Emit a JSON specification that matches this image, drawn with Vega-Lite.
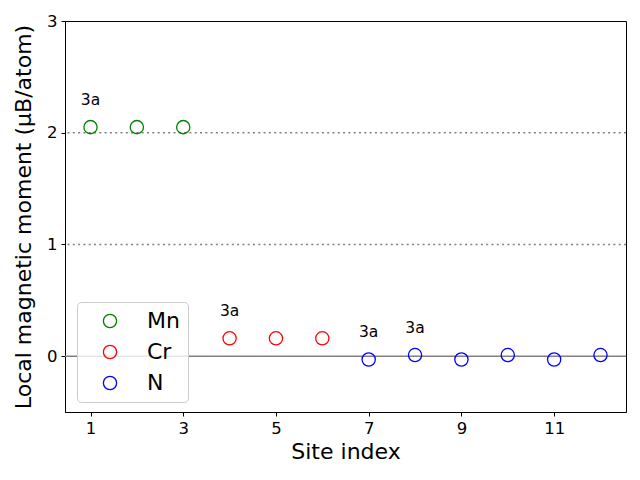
{
  "$schema": "https://vega.github.io/schema/vega-lite/v6.json",
  "width": 561,
  "height": 391,
  "autosize": {"type": "none"},
  "padding": {"left": 65, "top": 21, "right": 14, "bottom": 68},
  "background": "white",
  "config": {
    "font": "DejaVu Sans",
    "view": {"stroke": "black", "strokeWidth": 1},
    "axis": {
      "domainColor": "black",
      "tickColor": "black",
      "labelColor": "black",
      "titleColor": "black",
      "grid": false,
      "labelFontSize": 16.5,
      "titleFontSize": 22,
      "titleFontWeight": "normal",
      "tickSize": 4,
      "labelPadding": 4
    }
  },
  "datasets": {
    "sites": [
      {"site": 1, "moment": 2.05, "element": "Mn"},
      {"site": 2, "moment": 2.05, "element": "Mn"},
      {"site": 3, "moment": 2.05, "element": "Mn"},
      {"site": 4, "moment": 0.16, "element": "Cr"},
      {"site": 5, "moment": 0.16, "element": "Cr"},
      {"site": 6, "moment": 0.16, "element": "Cr"},
      {"site": 7, "moment": -0.03, "element": "N"},
      {"site": 8, "moment": 0.01, "element": "N"},
      {"site": 9, "moment": -0.03, "element": "N"},
      {"site": 10, "moment": 0.01, "element": "N"},
      {"site": 11, "moment": -0.03, "element": "N"},
      {"site": 12, "moment": 0.01, "element": "N"}
    ],
    "labels": [
      {"site": 1, "moment": 2.25, "label": "3a"},
      {"site": 4, "moment": 0.36, "label": "3a"},
      {"site": 7, "moment": 0.17, "label": "3a"},
      {"site": 8, "moment": 0.21, "label": "3a"}
    ],
    "refs": [
      {"level": 1},
      {"level": 2}
    ],
    "zero": [
      {"level": 0}
    ]
  },
  "layer": [
    {
      "data": {"name": "refs"},
      "mark": {"type": "rule", "color": "#808080", "strokeDash": [2, 3.3], "strokeWidth": 1.5},
      "encoding": {
        "y": {"field": "level", "type": "quantitative", "scale": {"domain": [-0.5, 3]}}
      }
    },
    {
      "data": {"name": "zero"},
      "mark": {"type": "rule", "color": "#808080", "strokeWidth": 1.5},
      "encoding": {
        "y": {"field": "level", "type": "quantitative"}
      }
    },
    {
      "data": {"name": "sites"},
      "mark": {"type": "point", "shape": "circle", "filled": false, "size": 175, "strokeWidth": 1.3, "opacity": 1},
      "encoding": {
        "x": {
          "field": "site", "type": "quantitative",
          "scale": {"domain": [0.45, 12.55], "nice": false, "zero": false},
          "axis": {"values": [1, 3, 5, 7, 9, 11], "format": "d", "title": "Site index", "titlePadding": 5}
        },
        "y": {
          "field": "moment", "type": "quantitative",
          "scale": {"domain": [-0.5, 3], "nice": false, "zero": false},
          "axis": {"values": [0, 1, 2, 3], "format": "d", "title": "Local magnetic moment (μB/atom)", "titlePadding": 11}
        },
        "color": {
          "field": "element", "type": "nominal",
          "scale": {"domain": ["Mn", "Cr", "N"], "range": ["#008000", "#ff0000", "#0000ff"]},
          "legend": {
            "title": null,
            "orient": "none",
            "legendX": 12,
            "legendY": 281,
            "labelFontSize": 22,
            "labelColor": "black",
            "symbolSize": 175,
            "symbolStrokeWidth": 1.3,
            "symbolType": "circle",
            "symbolOffset": 14,
            "labelOffset": 26,
            "rowPadding": 9,
            "padding": 8,
            "fillColor": "rgba(255,255,255,0.8)",
            "strokeColor": "#cccccc",
            "cornerRadius": 4
          }
        }
      }
    },
    {
      "data": {"name": "labels"},
      "mark": {"type": "text", "fontSize": 15.5, "color": "black", "align": "center", "baseline": "alphabetic"},
      "encoding": {
        "x": {"field": "site", "type": "quantitative"},
        "y": {"field": "moment", "type": "quantitative"},
        "text": {"field": "label", "type": "nominal"}
      }
    }
  ]
}
